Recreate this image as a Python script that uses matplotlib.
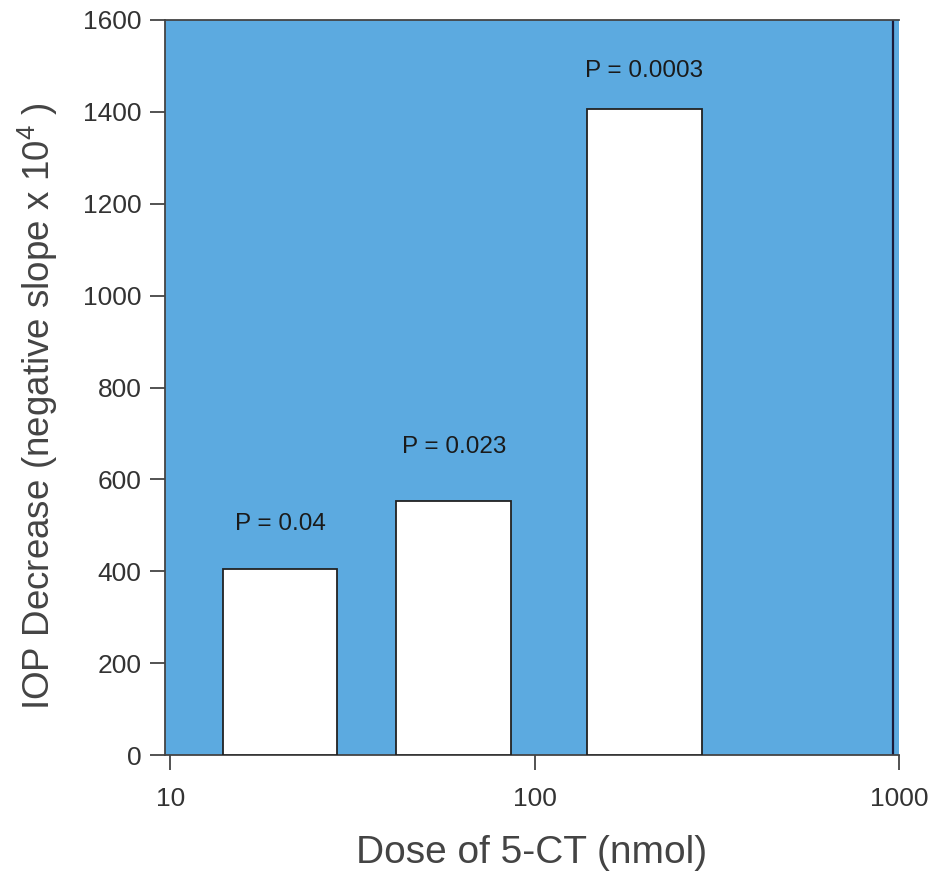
import matplotlib
matplotlib.use('Agg')
import matplotlib.pyplot as plt
import numpy as np

plt.rcParams['font.family'] = ['Liberation Sans', 'DejaVu Sans']
plt.rcParams['mathtext.default'] = 'regular'

# data
doses = [20, 60, 200]
iop_decrease = [404, 554, 1406]
p_labels = ['P = 0.04', 'P = 0.023', 'P = 0.0003']
p_label_y = [503, 670, 1490]
y_ticks = [0, 200, 400, 600, 800, 1000, 1200, 1400, 1600]
x_ticks = [10, 100, 1000]

half_w = 10 ** 0.1575  # half bar width as a factor on the log axis

fig = plt.figure(figsize=(9.36, 8.81), dpi=100)
ax = fig.add_axes([0.1763, 0.1430, 0.7842, 0.8343])
ax.set_facecolor('#5caae0')

ax.set_xscale('log')
left = [d / half_w for d in doses]
widths = [d * half_w - d / half_w for d in doses]
ax.bar(left, iop_decrease, width=widths, align='edge', color='white',
       edgecolor='#222222', linewidth=1.3, zorder=3)

for d, lab, yy in zip(doses, p_labels, p_label_y):
    ax.text(d, yy, lab, ha='center', va='center', fontsize=17.5, color='#1a1a1a', zorder=4)

# dark vertical line near the right edge
ax.axvline(960, color='#1a1a3a', linewidth=1.6, zorder=2)

ax.set_xlim(9.67, 1000)
ax.set_ylim(0, 1600)
ax.set_xticks(x_ticks)
ax.set_xticklabels([str(t) for t in x_ticks])
ax.xaxis.set_minor_locator(matplotlib.ticker.NullLocator())
ax.set_yticks(y_ticks)

ax.tick_params(axis='both', direction='out', length=11, width=1.3, color='#444444',
               labelsize=19, labelcolor='#333333', pad=6)
ax.tick_params(axis='x', pad=12)

for side in ['left', 'bottom', 'top']:
    ax.spines[side].set_color('#444444')
    ax.spines[side].set_linewidth(1.3)
ax.spines['right'].set_visible(False)

ax.set_xlabel('Dose of 5-CT (nmol)', fontsize=28, color='#444444', labelpad=17)
ax.set_ylabel(r'IOP Decrease (negative slope x 10$^{4}$ )', fontsize=26.5,
              color='#444444')
ax.yaxis.set_label_coords(-0.143, 0.475)

fig.savefig('out.png', dpi=100)
